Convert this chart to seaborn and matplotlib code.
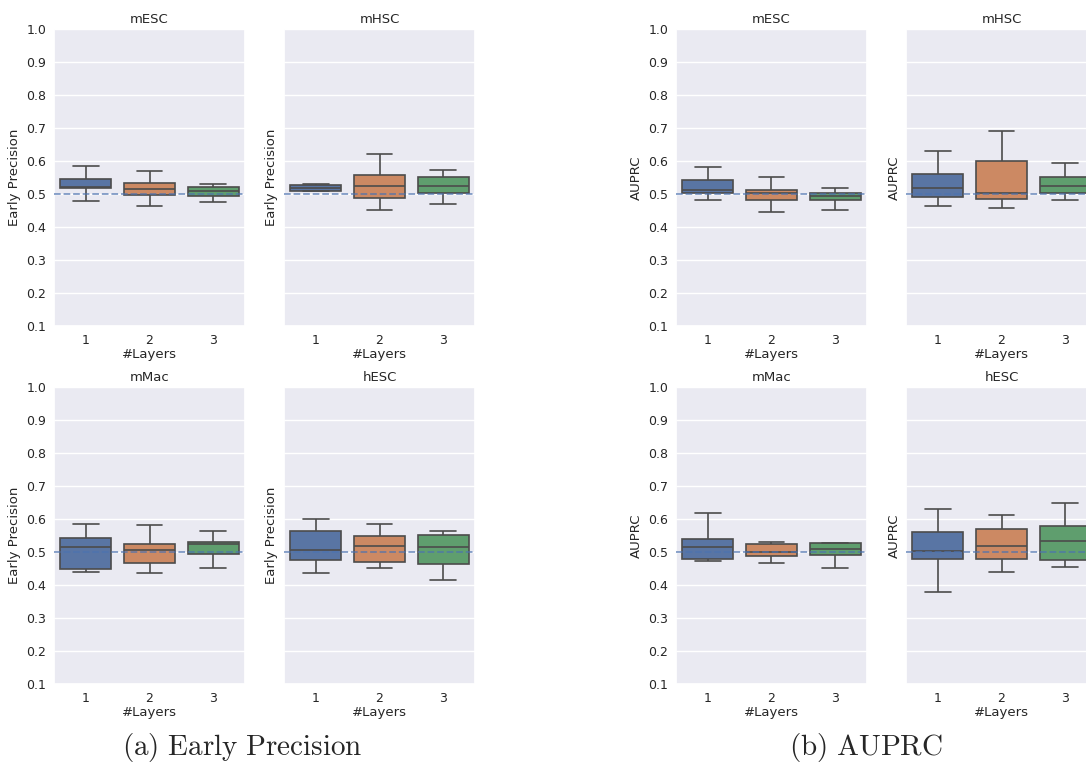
import numpy as np
import pandas as pd
import matplotlib
matplotlib.use("Agg")
import matplotlib.pyplot as plt
import seaborn as sns

# 5-number summaries per layer: [whisker_low, q1, median, q3, whisker_high]
layers = ["1", "2", "3"]
datasets = ["mESC", "mHSC", "mMac", "hESC"]

ep_mESC = [[0.480, 0.517, 0.521, 0.544, 0.586],
           [0.463, 0.497, 0.515, 0.532, 0.569],
           [0.475, 0.494, 0.510, 0.520, 0.529]]
ep_mHSC = [[0.509, 0.510, 0.519, 0.526, 0.529],
           [0.451, 0.487, 0.524, 0.558, 0.621],
           [0.469, 0.504, 0.523, 0.553, 0.572]]
ep_mMac = [[0.440, 0.450, 0.516, 0.542, 0.585],
           [0.436, 0.468, 0.507, 0.523, 0.582],
           [0.453, 0.493, 0.523, 0.530, 0.563]]
ep_hESC = [[0.437, 0.476, 0.507, 0.565, 0.600],
           [0.453, 0.471, 0.518, 0.547, 0.584],
           [0.415, 0.464, 0.516, 0.552, 0.564]]

au_mESC = [[0.482, 0.504, 0.513, 0.543, 0.581],
           [0.445, 0.482, 0.502, 0.511, 0.553],
           [0.452, 0.483, 0.493, 0.504, 0.518]]
au_mHSC = [[0.464, 0.492, 0.517, 0.561, 0.630],
           [0.458, 0.486, 0.504, 0.601, 0.692],
           [0.483, 0.502, 0.524, 0.550, 0.594]]
au_mMac = [[0.473, 0.478, 0.515, 0.540, 0.617],
           [0.467, 0.487, 0.500, 0.523, 0.530],
           [0.451, 0.491, 0.508, 0.526, 0.528]]
au_hESC = [[0.379, 0.480, 0.503, 0.561, 0.631],
           [0.440, 0.478, 0.518, 0.569, 0.611],
           [0.456, 0.476, 0.533, 0.579, 0.649]]

baseline = 0.5
yticks = [0.1, 0.2, 0.3, 0.4, 0.5, 0.6, 0.7, 0.8, 0.9, 1.0]

groups = [
    ("Early Precision", [ep_mESC, ep_mHSC, ep_mMac, ep_hESC], r"$\mathrm{(a)\ Early\ Precision}$"),
    ("AUPRC", [au_mESC, au_mHSC, au_mMac, au_hESC], r"$\mathrm{(b)\ AUPRC}$"),
]
caption_x = [242, 866]

sns.set_theme(style="darkgrid")
plt.rcParams["mathtext.fontset"] = "cm"

W, H = 1086, 770
fig = plt.figure(figsize=(W / 100, H / 100), dpi=100)

col_left = [[54, 284], [676, 906]]
row_top = [29, 387]
aw, ah = 191, 297
palette = sns.color_palette("deep", 3)

for g, (ylabel, sets, caption) in enumerate(groups):
    for i, (name, stats) in enumerate(zip(datasets, sets)):
        r, c = divmod(i, 2)
        x0 = col_left[g][c]
        y0 = row_top[r]
        ax = fig.add_axes([x0 / W, 1 - (y0 + ah) / H, aw / W, ah / H])
        rows = []
        for lay, s in zip(layers, stats):
            for v in s:
                rows.append({"#Layers": lay, "value": v})
        df = pd.DataFrame(rows)
        sns.boxplot(data=df, x="#Layers", y="value", hue="#Layers",
                    palette="deep", legend=False, whis=(0, 100),
                    linewidth=1.2, ax=ax)
        ax.axhline(baseline, ls="--", color=palette[0], alpha=0.7, lw=1.3, zorder=5)
        ax.set_ylim(0.1, 1.0)
        ax.set_yticks(yticks)
        ax.set_title(name, fontsize=9.5, pad=4)
        ax.tick_params(axis="both", labelsize=9, length=0, pad=5.5)
        ax.set_xlabel("#Layers", fontsize=9.5, labelpad=1)
        ax.set_ylabel(ylabel, fontsize=9.5, labelpad=4)
        if c == 1:
            ax.tick_params(axis="y", labelleft=False)
    fig.text(caption_x[g] / W, 1 - 748 / H, caption, ha="center", va="center", fontsize=21)

fig.savefig("out.png", dpi=100)
